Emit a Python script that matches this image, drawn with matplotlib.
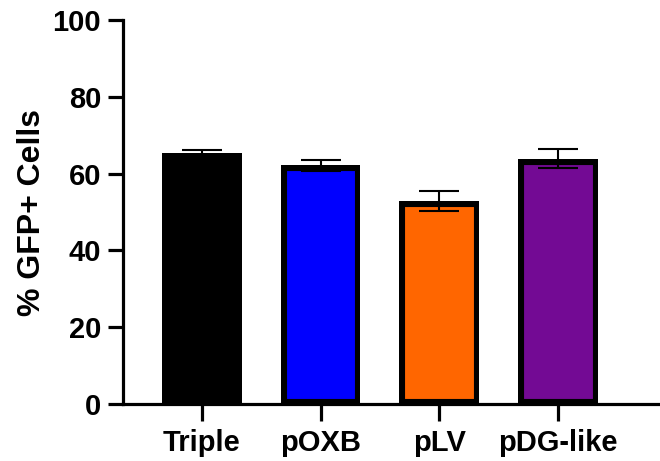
import matplotlib
matplotlib.use("Agg")
import matplotlib.pyplot as plt

categories = ["Triple", "pOXB", "pLV", "pDG-like"]
means = [65.3, 62.2, 52.9, 63.9]
sems = [0.9, 1.4, 2.7, 2.4]
colors = ["#000000", "#0000ff", "#ff6600", "#730a94"]

plt.rcParams["font.family"] = "Liberation Sans"
plt.rcParams["font.weight"] = "bold"

fig = plt.figure(figsize=(6.6, 4.61), dpi=100)
ax = fig.add_axes([0.186, 0.1236, 0.814, 0.833])

x = list(range(len(categories)))
bars = ax.bar(x, means, width=0.67, color=colors, edgecolor="black", linewidth=8, zorder=2)
# keep the border inside the bar, like GraphPad does
for b in bars:
    b.set_clip_path(b)
ax.errorbar(x, means, yerr=sems, fmt="none", ecolor="black", elinewidth=1.5,
            capsize=14.5, capthick=1.5, zorder=3)

ax.set_xlim(-0.666, 3.86)
ax.set_ylim(0, 100)
ax.set_yticks([0, 20, 40, 60, 80, 100])
ax.set_xticks(x)
ax.set_xticklabels(categories)
ax.set_ylabel("% GFP+ Cells", fontsize=23, fontweight="bold", labelpad=4)

for s in ["top", "right"]:
    ax.spines[s].set_visible(False)
for s in ["left", "bottom"]:
    ax.spines[s].set_linewidth(2.3)
ax.tick_params(axis="y", width=2.3, length=10.5, labelsize=21, pad=5)
ax.tick_params(axis="x", width=2.3, length=12, labelsize=21, pad=6)

fig.savefig("out.png", dpi=100)
